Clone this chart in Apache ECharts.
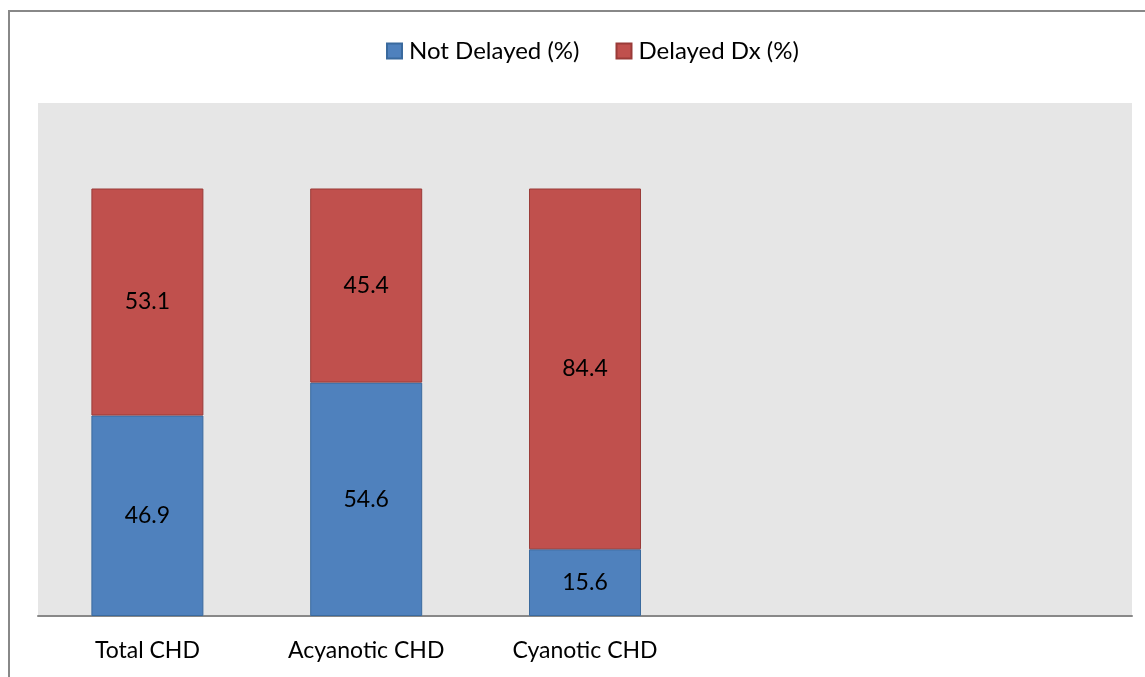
<!DOCTYPE html>
<html>
<head>
<meta charset="utf-8">
<style>
  html, body { margin: 0; padding: 0; background: #fff; }
  #chart { width: 1145px; height: 677px; }
</style>
<script src="https://cdn.jsdelivr.net/npm/echarts@6/dist/echarts.min.js"></script>
</head>
<body>
<div id="chart"></div>
<script>
// Diagnosis timing by CHD group (percent of patients)
const categories = ['Total CHD', 'Acyanotic CHD', 'Cyanotic CHD', '', ''];
const notDelayed = [46.9, 54.6, 15.6, null, null];
const delayedDx = [53.1, 45.4, 84.4, null, null];
const seriesNames = ['Not Delayed (%)', 'Delayed Dx (%)'];

const FONT = 'Lato, "Open Sans", sans-serif';

const chart = echarts.init(document.getElementById('chart'));

const segLabel = {
  show: true,
  position: 'inside',
  color: '#000',
  fontSize: 23,
  fontFamily: FONT,
  formatter: p => p.value == null ? '' : p.value.toFixed(1)
};

chart.setOption({
  animation: false,
  backgroundColor: '#fff',
  graphic: [{
    type: 'rect',
    shape: { x: 9, y: 11, width: 1300, height: 800 },
    style: { fill: 'none', stroke: '#888', lineWidth: 2 },
    silent: true
  }],
  legend: {
    top: 34,
    left: 381,
    itemWidth: 15,
    itemHeight: 15,
    itemGap: 36,
    icon: 'rect',
    textStyle: { fontSize: 24, fontFamily: FONT, color: '#000', padding: [0, 0, 0, 2] },
    data: seriesNames
  },
  grid: {
    left: 38,
    top: 103,
    width: 1094,
    height: 513,
    show: true,
    backgroundColor: '#E6E6E6',
    borderWidth: 0
  },
  xAxis: {
    type: 'category',
    data: categories,
    axisLine: { show: true, lineStyle: { color: '#888', width: 2 } },
    axisTick: { show: false },
    axisLabel: { color: '#000', fontSize: 23, fontFamily: FONT, margin: 23, interval: 0 }
  },
  yAxis: {
    type: 'value',
    min: 0,
    max: 120,
    show: false,
    splitLine: { show: false }
  },
  series: [
    {
      name: seriesNames[0],
      type: 'bar',
      stack: 'total',
      barWidth: 112,
      data: notDelayed,
      itemStyle: { color: '#4F81BD', borderColor: '#3A6A9E', borderWidth: 1 },
      label: segLabel
    },
    {
      name: seriesNames[1],
      type: 'bar',
      stack: 'total',
      barWidth: 112,
      data: delayedDx,
      itemStyle: { color: '#C0504D', borderColor: '#9A3B38', borderWidth: 1 },
      label: segLabel
    }
  ]
});
</script>
</body>
</html>
